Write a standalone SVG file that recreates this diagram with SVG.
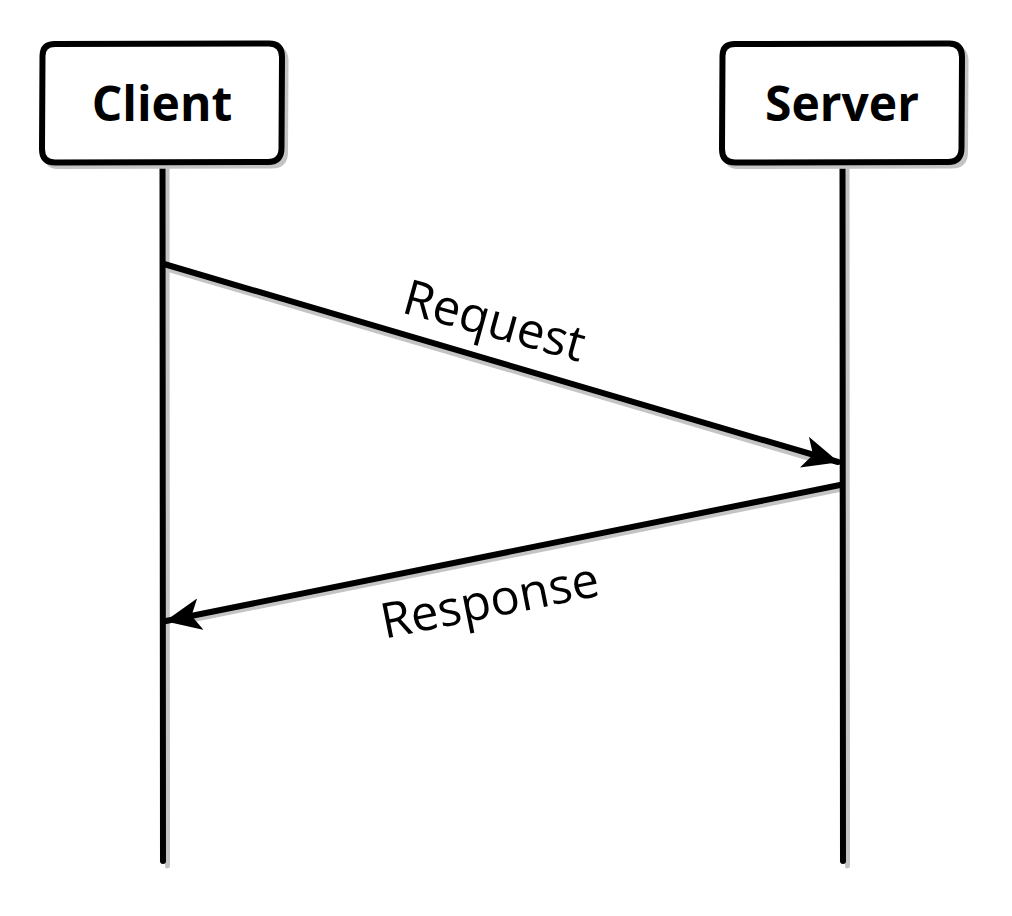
<svg xmlns="http://www.w3.org/2000/svg" width="1012" height="916" viewBox="0 0 1012 916">
  <style>
    .ink { fill: none; stroke: #000; stroke-width: 6; stroke-linecap: round; stroke-linejoin: round; }
    .shade { fill: none; stroke: #c4c4c4; stroke-width: 5; stroke-linecap: round; stroke-linejoin: round; }
    .box { fill: #fff; stroke: #000; stroke-width: 6; stroke-linejoin: round; }
    .title { font-family: "Open Sans", "Noto Sans", sans-serif; font-weight: bold; font-size: 48px; fill: #000; text-anchor: middle; }
    .msg { font-family: "Open Sans", "Noto Sans", sans-serif; font-size: 49px; fill: #000; text-anchor: middle; }
  </style>
  <defs>
    <marker id="head" viewBox="0 0 36 32" refX="35" refY="16" markerWidth="36" markerHeight="32" markerUnits="userSpaceOnUse" orient="auto">
      <path d="M0,0 L36,16 L0,32 L9,16 Z" fill="#000"/>
    </marker>
  </defs>

  <!-- lifelines and messages -->
  <g id="connectors">
    <!-- shadows -->
    <path class="shade" d="M167,167 L167.5,866"/>
    <path class="shade" d="M847,167 L847.5,866"/>
    <path class="shade" d="M167,269 L812,459"/>
    <path class="shade" d="M842,489 L196,619"/>
    <!-- lines -->
    <path class="ink" d="M162.5,162 L163,861"/>
    <path class="ink" d="M842.5,162 L843,861"/>
    <path class="ink" d="M164,264 L838,462" marker-end="url(#head)"/>
    <path class="ink" d="M840,485 L166,621" marker-end="url(#head)"/>
    <text class="msg" transform="translate(490,337) rotate(15.5)">Request</text>
    <text class="msg" transform="translate(493,617) rotate(-11.3)">Response</text>
  </g>

  <g id="client">
    <path class="shade" d="M58,48 L272,47.5 Q286,47.5 286,61 L285.5,152 Q285.5,166 272,166 L58,166.5 Q46,166.5 46,153 L46.5,60 Q46.5,48 58,48 Z"/>
    <path class="box" d="M55,44 L269,43.5 Q282,43.5 282,57 L281.5,148 Q281.5,162 268,162 L55,162.5 Q42,162.5 42,149 L42.5,56 Q42.5,44 55,44 Z"/>
    <text class="title" x="162" y="121">Client</text>
  </g>

  <g id="server">
    <path class="shade" d="M738,48 L952,47.5 Q966,47.5 966,61 L965.5,152 Q965.5,166 952,166 L738,166.5 Q726,166.5 726,153 L726.5,60 Q726.5,48 738,48 Z"/>
    <path class="box" d="M735,44 L949,43.5 Q962,43.5 962,57 L961.5,148 Q961.5,162 948,162 L735,162.5 Q722,162.5 722,149 L722.5,56 Q722.5,44 735,44 Z"/>
    <text class="title" x="842" y="121">Server</text>
  </g>
</svg>
